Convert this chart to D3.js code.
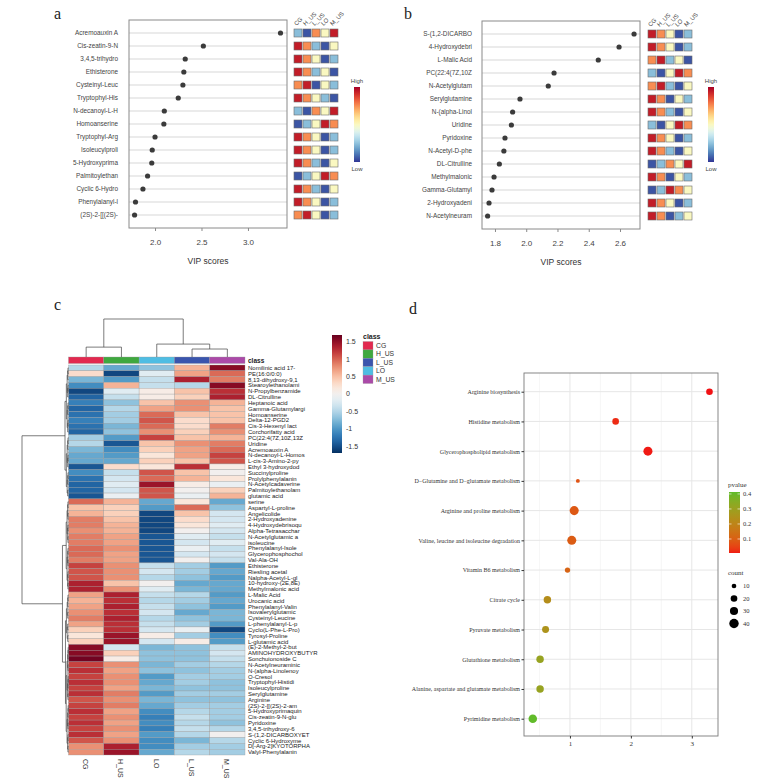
<!DOCTYPE html>
<html><head><meta charset="utf-8">
<script src="https://cdn.jsdelivr.net/npm/d3@7"></script>
<style>body{margin:0;background:#fff}</style></head>
<body><svg id="c" width="758" height="782"></svg>
<script>
// ---------------- DATA ----------------
const groupsAB = ["CG","H_US","L_US","LO","M_US"];

const metabA = ["Acremoauxin A","Cis-zeatin-9-N","3,4,5-trihydro","Ethisterone","Cysteinyl-Leuc","Tryptophyl-His","N-decanoyl-L-H","Homoanserine","Tryptophyl-Arg","Isoleucylproli","5-Hydroxyprima","Palmitoylethan","Cyclic 6-Hydro","Phenylalanyl-l","(2S)-2-[[(2S)-"];
const vipA = [3.35,2.52,2.325,2.31,2.30,2.25,2.10,2.095,2.00,1.97,1.965,1.92,1.87,1.79,1.78];
const levelsA = [[2,1,4,3,5],[5,4,2,1,3],[5,4,3,1,2],[5,4,2,3,1],[4,5,1,3,2],[5,4,3,2,1],[2,1,4,3,5],[1,2,3,5,4],[5,4,3,1,2],[5,4,3,1,2],[5,4,2,1,3],[1,2,3,5,4],[5,4,2,1,3],[5,4,3,1,2],[4,5,3,1,2]];
const ticksA = [2.0,2.5,3.0];

const metabB = ["S-(1,2-DICARBO","4-Hydroxydebri","L-Malic Acid","PC(22:4(7Z,10Z","N-Acetylglutam","Serylglutamine","N-(alpha-Linol","Uridine","Pyridoxine","N-Acetyl-D-phe","DL-Citrulline","Methylmalonic","Gamma-Glutamyl","2-Hydroxyadeni","N-Acetylneuram"];
const vipB = [2.69,2.594,2.461,2.178,2.141,1.96,1.913,1.905,1.864,1.857,1.828,1.794,1.781,1.762,1.753];
const levelsB = [[5,4,3,1,2],[5,4,3,1,2],[4,5,2,3,1],[2,1,3,5,4],[4,5,2,1,3],[5,4,1,3,2],[5,4,2,1,3],[2,1,3,5,4],[5,4,3,1,2],[5,4,2,1,3],[1,2,4,3,5],[5,4,1,3,2],[1,2,5,4,3],[5,4,3,1,2],[5,4,1,2,3]];
const ticksB = [1.8,2.0,2.2,2.4,2.6];

const heatCols = ["CG","H_US","LO","L_US","M_US"];
const heatRows = ["Nomilinic acid 17-","PE(16:0/0:0)","8,13-dihydroxy-9,1","Stearoylethanolami","N-Propylbenzamide","DL-Citrulline","Heptanoic acid","Gamma-Glutamylargi","Homoanserine","Delta-12-PGD2","Cis-3-Hexenyl lact","Corchorifatty acid","PC(22:4(7Z,10Z,13Z","Uridine","Acremoauxin A","N-decanoyl-L-Homos","L-cis-3-Amino-2-py","Ethyl 3-hydroxydod","Succinylproline","Prolylphenylalanin","N-Acetylcadaverine","Palmitoylethanolam","glutamic acid","serine","Aspartyl-L-proline","Angelicolide","2-Hydroxyadenine","4-Hydroxydebrisoqu","Alpha-Tetrasacchar","N-Acetylglutamic a","isoleucine","Phenylalanyl-Isole","Glycerophosphochol","Val-Ala-OH","Ethisterone","Riesling acetal","Nalpha-Acetyl-L-gl","10-hydroxy-(2E,8E)","Methylmalonic acid","L-Malic Acid","Urocanic acid","Phenylalanyl-Valin","Isovalerylglutamic","Cysteinyl-Leucine","L-phenylalanyl-L-p","Cyclo(L-Phe-L-Pro)","Tyrosyl-Proline","L-glutamic acid","(E)-2-Methyl-2-but","AMINOHYDROXYBUTYR","Sonchuionoside C","N-Acetylneuraminic","N-(alpha-Linolenoy","O-Cresol","Tryptophyl-Histidi","Isoleucylproline","Serylglutamine","Arginine","(2S)-2-[[(2S)-2-am","5-Hydroxyprimaquin","Cis-zeatin-9-N-glu","Pyridoxine","3,4,5-trihydroxy-6","S-(1,2-DICARBOXYET","Cyclic 6-Hydroxyme","D[-Arg-2]KYOTORPHA","Valyl-Phenylalanin"];
const heatValues = [
[-0.5,-0.9,-0.7,0.6,1.6],[0.3,-1.6,-0.2,0.7,1.0],[-0.8,-1.0,-0.4,1.4,0.9],[-1.1,0.6,-0.4,-0.5,1.6],
[-1.6,-0.2,0.1,0.5,1.3],[-1.4,-0.4,0.1,0.4,1.4],[-1.2,-0.7,0.5,0.8,0.6],[-1.4,-0.5,0.7,0.8,0.5],
[-1.3,-0.6,1.0,0.5,0.5],[-1.2,-0.6,1.1,0.3,0.5],[-1.3,-0.8,1.0,0.3,0.9],[-1.4,-0.7,0.8,0.4,0.8],
[-0.6,-1.0,1.2,0.5,0.6],[-0.5,-1.5,0.5,0.8,0.9],[-0.8,-1.1,0.4,0.7,1.0],[-0.9,-1.0,0.2,0.7,1.2],
[-0.9,-0.9,0.4,0.5,1.1],[-1.5,0.3,0.2,1.3,0.1],[-1.1,-0.4,1.1,0.5,0.0],[-1.3,-0.3,1.0,0.6,0.2],
[-1.4,-0.2,1.5,0.1,-0.1],[-1.4,-0.3,1.1,0.0,0.4],[-1.5,-0.1,1.1,-0.1,0.6],[1.0,0.6,-0.9,0.2,-0.9],
[0.5,0.4,-1.0,1.0,-0.7],[0.6,0.4,-1.6,0.5,-0.3],[0.9,0.5,-1.6,0.3,-0.3],[0.9,0.6,-1.6,0.2,-0.2],
[0.8,0.6,-1.6,0.0,-0.3],[0.9,0.7,-1.5,-0.2,-0.4],[0.9,0.7,-1.5,-0.3,-0.2],[1.0,0.8,-1.5,-0.1,-0.4],
[1.0,0.7,-1.5,-0.3,-0.3],[0.9,0.7,-1.5,0.0,-0.4],[1.2,0.8,-0.4,-0.6,-1.0],[1.1,0.8,-0.3,-0.6,-0.9],
[1.1,0.8,-0.5,-0.7,-1.0],[1.4,0.5,0.0,-0.9,-0.9],[1.4,0.8,-0.2,-0.8,-0.9],[0.7,1.4,-0.4,-0.5,-1.0],
[0.6,1.3,-0.5,-0.6,-0.9],[0.7,1.4,-0.4,-0.7,-1.0],[0.8,1.3,-0.3,-0.9,-0.8],[0.9,1.4,-0.5,-0.7,-0.8],
[0.7,1.3,-0.4,-0.6,-1.0],[0.4,1.3,-0.3,-0.1,-1.6],[0.2,1.5,0.1,-0.6,-1.1],[0.4,1.5,-0.3,0.1,-1.0],
[1.6,-0.3,-0.8,-0.7,-0.4],[1.6,0.4,-0.7,-0.7,-0.3],[1.7,0.1,-0.7,-0.7,-0.4],[1.2,0.8,-0.8,-0.6,-0.5],
[1.3,0.7,-0.7,-0.7,-0.6],[1.2,0.8,-1.0,-0.6,-0.6],[1.3,0.8,-0.9,-0.6,-0.7],[1.2,0.7,-0.8,-0.7,-0.7],
[1.3,0.9,-1.0,-0.6,-0.6],[1.1,0.8,-0.8,-0.7,-0.7],[1.2,0.9,-0.9,-0.6,-0.6],[1.3,0.7,-1.1,-0.5,-0.6],
[1.2,0.8,-1.2,-0.4,-0.6],[1.3,0.7,-1.1,-0.5,-0.7],[1.2,0.8,-1.2,-0.4,-0.5],[1.3,0.7,-1.0,-0.5,0.0],
[1.1,0.8,-1.1,-0.8,-0.5],[0.8,1.4,-1.1,-0.6,-0.6],[0.8,1.5,-0.9,-0.5,-0.6]];
const heatLegendTicks = [1.5,1,0.5,0,-0.5,-1,-1.5];
const classNames = ["CG","H_US","L_US","LO","M_US"];
const classColors = ["#e2294f","#3fa83f","#3a55ad","#4fbde3","#ab4aa8"];

const pathways = ["Arginine biosynthesis","Histidine metabolism","Glycerophospholipid metabolism","D\u2212Glutamine and D\u2212glutamate metabolism","Arginine and proline metabolism","Valine, leucine and isoleucine degradation","Vitamin B6 metabolism","Citrate cycle","Pyruvate metabolism","Glutathione metabolism","Alanine, aspartate and glutamate metabolism","Pyrimidine metabolism"];
const enrichX = [3.29,1.75,2.28,1.13,1.07,1.03,0.96,0.63,0.60,0.51,0.51,0.39];
const pvalues = [0.0005,0.018,0.005,0.074,0.085,0.093,0.11,0.23,0.25,0.31,0.31,0.41];
const counts = [20,20,37,7,37,37,13,25,22,25,25,33];
const ticksD = [1,2,3];
const pTicks = [0.4,0.3,0.2,0.1];
const countTicks = [10,20,30,40];

// ---------------- DRAW ----------------
const svg = d3.select("#c");
const SANS = "'Liberation Sans', Arial, sans-serif";
const SERIF = "'Liberation Serif', 'Times New Roman', serif";
const defs = svg.append("defs");

function gradient(id, stops, vertical=true){
  const g = defs.append("linearGradient").attr("id", id)
    .attr("x1",0).attr("y1",vertical?1:0).attr("x2",vertical?0:1).attr("y2",0);
  stops.forEach(([o,c]) => g.append("stop").attr("offset", o).attr("stop-color", c));
}

[["a",54,19],["b",404,19],["c",54,310],["d",409,314]].forEach(([t,x,y]) =>
  svg.append("text").attr("x",x).attr("y",y).text(t).attr("font-family",SERIF).attr("font-size",16).attr("fill","#222"));

const lvlColor = l => d3.interpolateRdYlBu([0,0.95,0.76,0.5,0.25,0.06][l]);
gradient("rdylbu", d3.range(0,1.0001,0.05).map(t => [t, d3.interpolateRdYlBu(1-t)]));

function drawVip(names, vals, levels, xDomain, xRange, yRange, ticks, sqX0, barX, labelGap){
  const g = svg.append("g");
  const x = d3.scaleLinear().domain(xDomain).range(xRange);
  const y = d3.scalePoint().domain(names).range(yRange);
  const top = yRange[0]-13, bottom = yRange[1]+13;
  g.selectAll(null).data(names).join("line")
    .attr("x1",xRange[0]).attr("x2",xRange[1]).attr("y1",d=>y(d)).attr("y2",d=>y(d))
    .attr("stroke","#e4e4e4").attr("stroke-width",1.3);
  g.append("rect").attr("x",xRange[0]).attr("y",top).attr("width",xRange[1]-xRange[0]).attr("height",bottom-top)
    .attr("fill","none").attr("stroke","#8a8a8a").attr("stroke-width",1);
  g.selectAll(null).data(vals).join("circle")
    .attr("cx",d=>x(d)).attr("cy",(d,i)=>y(names[i])).attr("r",2.6).attr("fill","#3b3b3b");
  g.selectAll(null).data(names).join("text")
    .attr("x",xRange[0]-labelGap).attr("y",d=>y(d)).attr("dy","0.35em").attr("text-anchor","end")
    .attr("font-family",SANS).attr("font-size",6.4).attr("fill","#444").text(d=>d);
  const ax = g.append("g").attr("transform",`translate(0,${bottom})`)
    .call(d3.axisBottom(x).tickValues(ticks).tickSize(3).tickPadding(8).tickFormat(d3.format(".1f")));
  ax.select(".domain").remove();
  ax.selectAll("line").attr("stroke","#8a8a8a");
  ax.selectAll("text").attr("font-family",SANS).attr("font-size",8).attr("fill","#444");
  g.append("text").attr("x",(xRange[0]+xRange[1])/2).attr("y",bottom+36).attr("text-anchor","middle")
    .attr("font-family",SANS).attr("font-size",8.5).attr("fill","#333").text("VIP scores");
  levels.forEach((row,i) => row.forEach((l,j) => {
    g.append("rect").attr("x",sqX0+j*9).attr("y",y(names[i])-4).attr("width",8).attr("height",8)
      .attr("fill",lvlColor(l)).attr("stroke","#6b6b6b").attr("stroke-width",0.6);
  }));
  groupsAB.forEach((s,j) => {
    g.append("text").attr("transform",`translate(${sqX0+j*9+2.5},${top+6}) rotate(-45)`)
      .attr("font-family",SANS).attr("font-size",6).attr("fill","#444").text(s);
  });
  g.append("rect").attr("x",barX).attr("y",87).attr("width",6).attr("height",75).attr("fill","url(#rdylbu)");
  g.append("text").attr("x",barX+3).attr("y",83).attr("text-anchor","middle").attr("font-family",SANS).attr("font-size",6).attr("fill","#444").text("High");
  g.append("text").attr("x",barX+3).attr("y",171).attr("text-anchor","middle").attr("font-family",SANS).attr("font-size",6).attr("fill","#444").text("Low");
}
drawVip(metabA, vipA, levelsA, [1.72,3.42], [129,287], [33,215], ticksA, 294, 354, 11);
drawVip(metabB, vipB, levelsB, [1.717,2.728], [482,640], [34,216], ticksB, 648, 708, 10);

// ---------------- PANEL C: heatmap ----------------
const gc = svg.append("g");
const hx = d3.scaleBand().domain(heatCols).range([68.5,245]);
const hy = d3.scaleBand().domain(d3.range(heatRows.length)).range([365,755]);
const heatColor = d3.scaleSequential(t => d3.interpolateRdBu(1-t)).domain([-1.75,1.75]);
heatValues.forEach((row,i) => row.forEach((v,j) => {
  gc.append("rect").attr("x",hx(heatCols[j])).attr("y",hy(i)).attr("width",hx.bandwidth()).attr("height",hy.bandwidth())
    .attr("fill",heatColor(v)).attr("stroke","#9a9a9a").attr("stroke-width",0.35);
}));
const classIdx = c => classNames.indexOf(c);
heatCols.forEach(c => gc.append("rect").attr("x",hx(c)).attr("y",357).attr("width",hx.bandwidth()).attr("height",6.5)
  .attr("fill",classColors[classIdx(c)]).attr("stroke","#9a9a9a").attr("stroke-width",0.35));
gc.append("text").attr("x",248).attr("y",360.5).attr("dy","0.35em").attr("font-family",SANS).attr("font-size",6.5)
  .attr("font-weight","bold").attr("fill","#222").text("class");
gc.selectAll(null).data(heatRows).join("text").attr("x",248).attr("y",(d,i)=>hy(i)+hy.bandwidth()/2).attr("dy","0.35em")
  .attr("font-family",SANS).attr("font-size",6.0).attr("fill","#222").text(d=>d);
heatCols.forEach(c => gc.append("text").attr("transform",`translate(${hx(c)+hx.bandwidth()/2-3},759) rotate(90)`)
  .attr("font-family",SANS).attr("font-size",7).attr("fill","#333").text(c));

function balanced(a,b,h){ if(a===b) return {leaf:a}; const m=Math.floor((a+b)/2); return {h, children:[balanced(a,m,h*0.62), balanced(m+1,b,h*0.62)]}; }
const rowTree = {h:1, children:[ balanced(0,22,0.075), {h:0.13, children:[ balanced(23,38,0.05), {h:0.065, children:[ balanced(39,47,0.045), balanced(48,66,0.05) ]} ]} ]};
const colTree = {h:1, children:[ {h:0.26, children:[{leaf:0},{leaf:1}]}, {h:0.34, children:[{leaf:2},{h:0.21, children:[{leaf:3},{leaf:4}]}]} ]};
const rowX = h => 68.5 - h*46.5;
const colY = h => 357 - h*38;
const dg = gc.append("g").attr("fill","none").attr("stroke","#444").attr("stroke-width",0.7);
function layoutRow(n){
  if(n.leaf!==undefined){ n.y = hy(n.leaf)+hy.bandwidth()/2; n.x = 68.5; return n; }
  n.children.forEach(layoutRow); n.x = rowX(n.h); n.y = d3.mean(n.children, c=>c.y);
  dg.append("path").attr("d",`M${n.children[0].x},${n.children[0].y}H${n.x}V${n.children[1].y}H${n.children[1].x}`);
  return n;
}
layoutRow(rowTree);
function layoutCol(n){
  if(n.leaf!==undefined){ n.x = hx(heatCols[n.leaf])+hx.bandwidth()/2; n.y = 357; return n; }
  n.children.forEach(layoutCol); n.y = colY(n.h); n.x = d3.mean(n.children, c=>c.x);
  dg.append("path").attr("d",`M${n.children[0].x},${n.children[0].y}V${n.y}H${n.children[1].x}V${n.children[1].y}`);
  return n;
}
layoutCol(colTree);

gradient("rdbu", d3.range(0,1.0001,0.05).map(t => [t, heatColor(-1.75+t*3.5)]));
const ly = d3.scaleLinear().domain([-1.7,1.7]).range([453,335]);
gc.append("rect").attr("x",332).attr("y",335).attr("width",10).attr("height",118).attr("fill","url(#rdbu)");
gc.selectAll(null).data(heatLegendTicks).join("text").attr("x",346).attr("y",d=>ly(d)).attr("dy","0.35em")
  .attr("font-family",SANS).attr("font-size",7).attr("fill","#333").text(d=>d);
gc.append("text").attr("x",363).attr("y",339).attr("font-family",SANS).attr("font-size",7).attr("font-weight","bold").attr("fill","#222").text("class");
classNames.forEach((c,i) => {
  gc.append("rect").attr("x",363).attr("y",341.5+i*8.4).attr("width",10).attr("height",8.4).attr("fill",classColors[i]).attr("stroke","#9a9a9a").attr("stroke-width",0.3);
  gc.append("text").attr("x",376).attr("y",341.5+i*8.4+4.2).attr("dy","0.35em").attr("font-family",SANS).attr("font-size",6.8).attr("fill","#333").text(c);
});

// ---------------- PANEL D ----------------
const gd = svg.append("g");
const dx = d3.scaleLinear().domain([0.246,3.43]).range([524,718]);
const dy = d3.scalePoint().domain(pathways).range([391.7,718.7]);
const dTop = 373, dBottom = 736;
const pColor = d3.scaleLinear().domain([0.0067,0.413]).range(["#f01d14","#5fbc2a"]).interpolate(d3.interpolateLab);
const rScale = d3.scaleSqrt().domain([0,40]).range([0,4.7]);
[0.5,1.5,2.5].forEach(v => gd.append("line").attr("x1",dx(v)).attr("x2",dx(v)).attr("y1",dTop).attr("y2",dBottom).attr("stroke","#f0f0f0").attr("stroke-width",0.6));
ticksD.forEach(v => gd.append("line").attr("x1",dx(v)).attr("x2",dx(v)).attr("y1",dTop).attr("y2",dBottom).attr("stroke","#e6e6e6").attr("stroke-width",1));
pathways.forEach(p => gd.append("line").attr("x1",524).attr("x2",718).attr("y1",dy(p)).attr("y2",dy(p)).attr("stroke","#e6e6e6").attr("stroke-width",1));
gd.append("rect").attr("x",524).attr("y",dTop).attr("width",194).attr("height",dBottom-dTop).attr("fill","none").attr("stroke","#7a7a7a").attr("stroke-width",0.9);
gd.selectAll(null).data(pathways).join("circle").attr("cx",(d,i)=>dx(enrichX[i])).attr("cy",d=>dy(d))
  .attr("r",(d,i)=>rScale(counts[i])).attr("fill",(d,i)=>pColor(pvalues[i]));
const ayD = gd.append("g").attr("transform","translate(524,0)").call(d3.axisLeft(dy).tickSize(2.5).tickPadding(1.5));
ayD.select(".domain").remove();
ayD.selectAll("line").attr("stroke","#333");
ayD.selectAll("text").attr("font-family",SERIF).attr("font-size",6).attr("fill","#333");
const axD = gd.append("g").attr("transform",`translate(0,${dBottom})`).call(d3.axisBottom(dx).tickValues(ticksD).tickSize(2.5).tickPadding(2.5).tickFormat(d3.format("d")));
axD.select(".domain").remove();
axD.selectAll("line").attr("stroke","#333");
axD.selectAll("text").attr("font-family",SERIF).attr("font-size",7).attr("fill","#333");
gradient("pgrad", d3.range(0,1.0001,0.05).map(t => [t, pColor(0.0067+t*(0.413-0.0067))]));
const py = d3.scaleLinear().domain([0.0067,0.413]).range([553,492]);
gd.append("text").attr("x",728).attr("y",487).attr("font-family",SERIF).attr("font-size",7).attr("fill","#333").text("pvalue");
gd.append("rect").attr("x",729).attr("y",492).attr("width",11).attr("height",61).attr("fill","url(#pgrad)");
pTicks.forEach(v => {
  gd.append("line").attr("x1",729).attr("x2",731.5).attr("y1",py(v)).attr("y2",py(v)).attr("stroke","#fff").attr("stroke-width",0.6);
  gd.append("line").attr("x1",737.5).attr("x2",740).attr("y1",py(v)).attr("y2",py(v)).attr("stroke","#fff").attr("stroke-width",0.6);
  gd.append("text").attr("x",743).attr("y",py(v)).attr("dy","0.35em").attr("font-family",SERIF).attr("font-size",6.5).attr("fill","#333").text(v);
});
gd.append("text").attr("x",728).attr("y",575).attr("font-family",SERIF).attr("font-size",7).attr("fill","#333").text("count");
countTicks.forEach((c,i) => {
  const yy = 586 + i*12.5;
  gd.append("circle").attr("cx",734).attr("cy",yy).attr("r",rScale(c)).attr("fill","#000");
  gd.append("text").attr("x",743).attr("y",yy).attr("dy","0.35em").attr("font-family",SERIF).attr("font-size",6.5).attr("fill","#333").text(c);
});
</script></body></html>
